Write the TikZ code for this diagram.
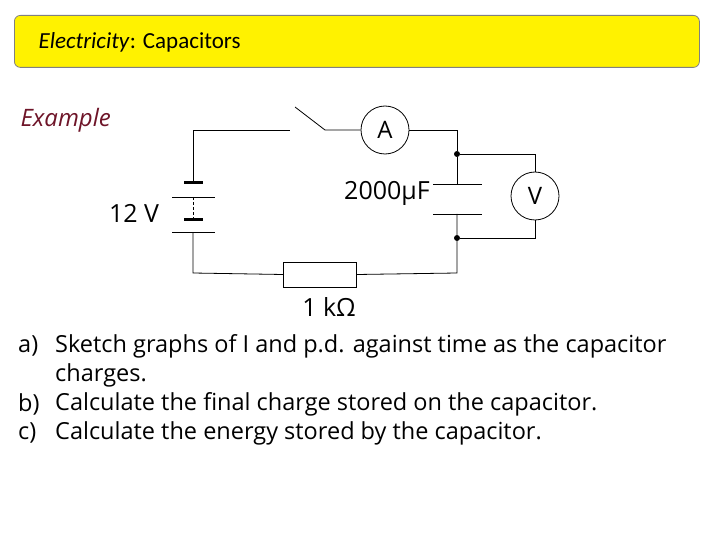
\documentclass[tikz,border=0pt]{standalone}
\usepackage{fontspec}
\setmainfont{Open Sans}
\newfontfamily\titlefont{Carlito}
\begin{document}
\begin{tikzpicture}[x=1pt,y=-1pt,
  wire/.style={line width=0.8pt},
  meter/.style={draw,circle,minimum size=48pt,inner sep=0pt,line width=0.8pt,font=\fontsize{24}{24}\selectfont},
  dot/.style={circle,fill,inner sep=0pt,minimum size=6pt},
  txt/.style={anchor=west,inner sep=0pt,font=\fontsize{23.5}{24}\selectfont},
  lbl/.style={font=\fontsize{25}{25}\selectfont}]
\useasboundingbox (0,0) rectangle (720,540);
\node[draw=black!50,fill=yellow,rounded corners=6pt,minimum width=685pt,minimum height=52pt,anchor=north west,line width=0.8pt] (title) at (14,15) {};
\node[anchor=west,font=\titlefont\fontsize{23}{23}\selectfont] (tt) at (35,42) {\textit{Electricity}: Capacitors};
\node[anchor=west,font=\itshape\fontsize{24}{24}\selectfont,text={rgb,255:red,110;green,20;blue,40}] (ex) at (17,120) {Example};
% nodes
\node[meter] (A) at (385,130) {A};
\node[meter] (V) at (535,196) {V};
\node[draw,minimum width=73pt,minimum height=25pt,inner sep=0pt,line width=0.8pt] (R) at (320,274.5) {};
\coordinate (tl) at (193,130);
\coordinate (bl) at (193,273);
\coordinate (tr) at (457,130);
\coordinate (br) at (457,273);
\coordinate (sw1) at (290,130);
\coordinate (sw2) at (325,130);
\coordinate (swt) at (295,107);
\node[dot] (d1) at (457,154) {};
\node[dot] (d2) at (457,238) {};
\coordinate (c1) at (457,184);
\coordinate (c2) at (457,214);
\coordinate (b1) at (193,183);
\coordinate (b2) at (193,232);
% wires
\draw[wire] (b1) -- (tl) -- (sw1);
\draw[wire] (swt) -- (sw2) -- (A.west);
\draw[wire] (A.east) -- (tr) -- (d1) -- (c1);
\draw[wire] (c2) -- (d2) -- (br) -- (R.east);
\draw[wire] (R.west) -- (bl) -- (b2);
\draw[wire] (d1) -| (V.north);
\draw[wire] (d2) -| (V.south);
% capacitor
\draw[wire] (433,184) -- (482,184);
\draw[wire] (433,214) -- (482,214);
% battery
\draw[line width=3pt] (184,183) -- (203,183);
\draw[wire] (172,197) -- (215,197);
\draw[line width=3pt] (184,220) -- (203,220);
\draw[wire] (172,232) -- (215,232);
\draw[wire,dashed,dash pattern=on 3pt off 2pt] (193,197) -- (193,220);
% labels
\node[lbl] (l12) at (134,213) {12 V};
\node[lbl] (lc) at (387,193) {2000µF};
\node[lbl] (lr) at (329,307) {1 kΩ};
\node[txt] (qa) at (18,346) {a)};
\node[txt] (qat) at (55,346) {Sketch graphs of I and p.d. against time as the capacitor};
\node[txt] (qa2) at (55,375) {charges.};
\node[txt] (qb) at (18,404) {b)};
\node[txt] (qbt) at (55,404) {Calculate the final charge stored on the capacitor.};
\node[txt] (qc) at (18,433) {c)};
\node[txt] (qct) at (55,433) {Calculate the energy stored by the capacitor.};
\end{tikzpicture}
\end{document}
